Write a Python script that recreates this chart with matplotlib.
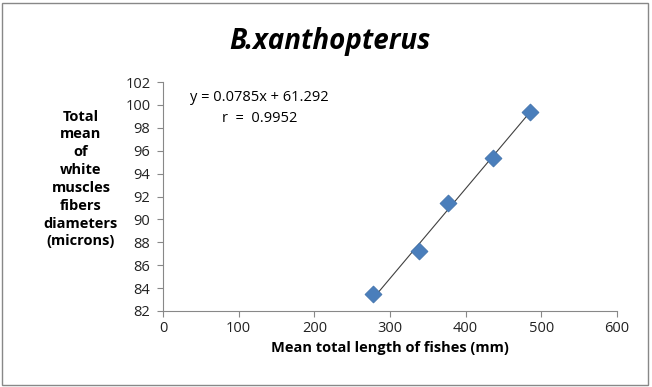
import matplotlib
matplotlib.use("Agg")
import matplotlib.pyplot as plt
import numpy as np

lengths = [277.5, 338.6, 377.0, 436.6, 485.0]
diameters = [83.5, 87.2, 91.4, 95.4, 99.4]
slope, intercept = 0.0785, 61.292
xticks = [0, 100, 200, 300, 400, 500, 600]
yticks = [82, 84, 86, 88, 90, 92, 94, 96, 98, 100, 102]

plt.rcParams['font.family'] = ['Open Sans', 'DejaVu Sans']
fig = plt.figure(figsize=(6.52, 3.87), dpi=100)
ax = fig.add_axes([163/652, 1-311/387, (617-163)/652, (311-82)/387])

xl = np.array([lengths[0], lengths[-1]])
ax.plot(xl, slope*xl + intercept, color='#404040', lw=0.8, zorder=2)
ax.scatter(lengths, diameters, marker='D', s=75, color='#4a7ebb', edgecolors='#3d6fa8', linewidths=0.5, zorder=3)

ax.set_xlim(0, 600)
ax.set_ylim(82, 102)
ax.set_xticks(xticks)
ax.set_yticks(yticks)
ax.tick_params(labelsize=10.5, colors='#222222', direction='out', length=4, color='#888888')
ax.tick_params(axis='y', pad=5)
for s in ['top', 'right']:
    ax.spines[s].set_visible(False)
for s in ['left', 'bottom']:
    ax.spines[s].set_color('#888888')

ax.set_xlabel('Mean total length of fishes (mm)', fontsize=10.5, fontweight='bold', labelpad=3)
fig.text(81/652, 1-179/387, 'Total\nmean\nof\nwhite\nmuscles\nfibers\ndiameters\n(microns)',
         ha='center', va='center', fontsize=10.5, fontweight='bold', linespacing=1.35)
fig.text(330/652, 1-42/387, 'B.xanthopterus', ha='center', va='center', fontsize=20,
         fontweight='bold', fontstyle='italic')
fig.text(190/652, 1-97/387, 'y = 0.0785x + 61.292', ha='left', va='center', fontsize=10.5)
fig.text(222/652, 1-118/387, 'r  =  0.9952', ha='left', va='center', fontsize=10.5)

fig.add_artist(plt.Rectangle((2/652, 2/387), 646/652, 382/387, transform=fig.transFigure,
                             fill=False, edgecolor='#888888', lw=1))
fig.savefig('out.png', dpi=100)
